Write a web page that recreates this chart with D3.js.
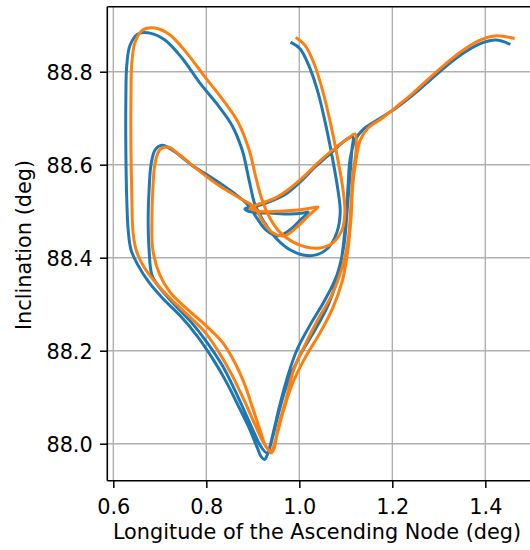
<!DOCTYPE html>
<html><head><meta charset="utf-8">
<script src="https://cdn.jsdelivr.net/npm/d3@7"></script>
<style>body{margin:0;background:#fff}svg{display:block}text{font-family:"DejaVu Sans",sans-serif}</style>
</head><body>
<svg id="c" width="530" height="550"></svg>
<script>
const xTicks = [0.6, 0.8, 1.0, 1.2, 1.4];
const yTicks = [88.0, 88.2, 88.4, 88.6, 88.8];
const xLabel = "Longitude of the Ascending Node (deg)";
const yLabel = "Inclination (deg)";
const seriesColors = ["#1f77b4", "#ff7f0e"];

// [RAAN (deg), inclination (deg)]
const blueTrack = [
[0.984,88.862],[1.002,88.849],[1.021,88.812],[1.040,88.756],[1.057,88.685],[1.072,88.610],[1.083,88.546],[1.088,88.498],[1.081,88.455],[1.062,88.421],[1.036,88.406],[1.008,88.406],[0.980,88.417],[0.950,88.442],[0.924,88.477],[0.905,88.513],[0.892,88.567],[0.877,88.632],[0.855,88.685],[0.825,88.728],[0.786,88.776],[0.748,88.829],[0.711,88.868],[0.679,88.883],[0.653,88.881],[0.636,88.857],[0.629,88.814],[0.627,88.739],[0.627,88.632],[0.629,88.524],
[0.632,88.460],[0.638,88.417],[0.653,88.384],[0.676,88.348],[0.706,88.313],[0.744,88.275],[0.780,88.232],[0.813,88.184],[0.843,88.133],[0.868,88.083],[0.892,88.034],[0.909,87.993],[0.918,87.972],[0.925,87.966],[0.932,87.978],
[0.943,88.019],[0.958,88.083],[0.976,88.148],[0.995,88.202],[1.023,88.255],[1.055,88.309],[1.081,88.363],[1.096,88.427],[1.103,88.503],[1.109,88.578],[1.113,88.632],[1.115,88.660],
[1.100,88.653],[1.070,88.627],[1.034,88.595],[1.002,88.563],[0.974,88.539],[0.941,88.522],[0.909,88.511],[0.883,88.505],[0.898,88.498],[0.937,88.496],[0.980,88.494],[1.008,88.496],[1.019,88.498],[1.002,88.481],[0.980,88.460],[0.954,88.447],[0.928,88.460],[0.907,88.488],[0.890,88.513],[0.862,88.537],[0.819,88.567],[0.769,88.599],[0.726,88.632],[0.705,88.642],[0.690,88.632],[0.681,88.599],[0.677,88.546],[0.675,88.481],[0.677,88.417],[0.683,88.363],
[0.700,88.335],[0.729,88.302],[0.767,88.262],[0.803,88.216],[0.834,88.169],[0.860,88.118],[0.883,88.068],[0.903,88.023],[0.918,87.993],[0.931,87.980],
[0.941,88.008],[0.956,88.068],[0.973,88.126],[1.002,88.191],[1.034,88.245],[1.062,88.298],[1.081,88.352],[1.092,88.406],[1.100,88.481],[1.105,88.556],[1.109,88.610],[1.120,88.653],[1.141,88.679],[1.174,88.700],[1.208,88.722],[1.242,88.748],[1.277,88.778],[1.311,88.808],[1.350,88.838],[1.388,88.860],[1.423,88.868],[1.451,88.860]
];

const orangeTrack = [
[0.995,88.872],[1.012,88.857],[1.032,88.817],[1.051,88.756],[1.068,88.685],[1.083,88.610],[1.094,88.546],[1.098,88.498],[1.092,88.460],[1.072,88.432],[1.045,88.421],[1.014,88.423],[0.986,88.434],[0.958,88.455],[0.937,88.485],[0.920,88.524],[0.907,88.571],[0.892,88.632],[0.868,88.692],[0.836,88.739],[0.797,88.789],[0.758,88.840],[0.722,88.879],[0.690,88.894],[0.664,88.890],[0.647,88.864],[0.640,88.821],[0.638,88.739],[0.638,88.632],[0.640,88.524],
[0.642,88.460],[0.649,88.417],[0.666,88.380],[0.694,88.343],[0.726,88.309],[0.762,88.275],[0.797,88.240],[0.827,88.197],[0.855,88.148],[0.881,88.094],[0.902,88.047],[0.920,88.008],[0.933,87.987],[0.939,87.980],[0.946,87.990],
[0.954,88.034],[0.971,88.094],[0.988,88.159],[1.012,88.212],[1.040,88.267],[1.070,88.320],[1.092,88.378],[1.105,88.438],[1.111,88.513],[1.115,88.578],[1.122,88.632],[1.120,88.666],
[1.105,88.657],[1.072,88.632],[1.040,88.604],[1.006,88.571],[0.976,88.546],[0.948,88.528],[0.915,88.516],[0.894,88.507],[0.911,88.500],[0.954,88.500],[1.002,88.503],[1.027,88.507],[1.040,88.509],[1.019,88.490],[0.993,88.464],[0.967,88.447],[0.941,88.455],[0.920,88.481],[0.903,88.509],[0.872,88.528],[0.829,88.554],[0.782,88.589],[0.743,88.621],[0.718,88.638],[0.700,88.632],[0.690,88.604],[0.685,88.546],[0.683,88.481],[0.685,88.417],
[0.700,88.363],[0.722,88.326],[0.756,88.292],[0.798,88.255],[0.834,88.219],[0.861,88.175],[0.883,88.126],[0.901,88.073],[0.917,88.025],[0.928,87.995],[0.939,87.984],
[0.950,88.012],[0.965,88.068],[0.984,88.126],[1.012,88.184],[1.045,88.239],[1.072,88.292],[1.092,88.348],[1.103,88.406],[1.111,88.481],[1.115,88.556],[1.122,88.610],[1.131,88.653],[1.148,88.679],[1.178,88.700],[1.208,88.724],[1.242,88.752],[1.275,88.782],[1.309,88.812],[1.346,88.842],[1.384,88.866],[1.421,88.877],[1.460,88.872]
];

const svg = d3.select("#c");
const L = 107.3, T = 6.7, R = 532.7, B = 480.7;
const x = d3.scaleLinear().domain([0.5871, 1.5019]).range([L, R]);
const y = d3.scaleLinear().domain([87.9204, 88.9398]).range([B, T]);

svg.append("defs").append("clipPath").attr("id", "clip")
  .append("rect").attr("x", L).attr("y", T).attr("width", R - L).attr("height", B - T);

// grid
const g = svg.append("g");
g.selectAll(".gx").data(xTicks).join("line")
  .attr("x1", d => x(d)).attr("x2", d => x(d)).attr("y1", T).attr("y2", B)
  .attr("stroke", "#b0b0b0").attr("stroke-width", 1.4);
g.selectAll(".gy").data(yTicks).join("line")
  .attr("y1", d => y(d)).attr("y2", d => y(d)).attr("x1", L).attr("x2", R)
  .attr("stroke", "#b0b0b0").attr("stroke-width", 1.4);

// series
const series = [blueTrack, orangeTrack];
const line = d3.line().x(d => x(d[0])).y(d => y(d[1])).curve(d3.curveCatmullRom.alpha(0.5));
svg.append("g").attr("clip-path", "url(#clip)").selectAll("path").data(series).join("path")
  .attr("d", line).attr("fill", "none")
  .attr("stroke", (d, i) => seriesColors[i]).attr("stroke-width", 3)
  .attr("stroke-linejoin", "round").attr("stroke-linecap", "square");

// axes
const fs = 20.8;
const xAxis = d3.axisBottom(x).tickValues(xTicks).tickSize(7.3).tickPadding(7.3).tickFormat(d3.format(".1f"));
const yAxis = d3.axisLeft(y).tickValues(yTicks).tickSize(7.3).tickPadding(7.3).tickFormat(d3.format(".1f"));
const ax = svg.append("g").attr("transform", `translate(0,${B})`).call(xAxis);
const ay = svg.append("g").attr("transform", `translate(${L},0)`).call(yAxis);
[ax, ay].forEach(a => {
  a.select(".domain").remove();
  a.selectAll(".tick line").attr("stroke", "#000").attr("stroke-width", 1.5);
  a.selectAll(".tick text").attr("font-size", fs).attr("fill", "#000").attr("font-family", "DejaVu Sans");
});
ax.selectAll(".tick text").attr("dy", null).attr("y", 33.3);
ay.selectAll(".tick text").attr("dy", "0.37em");

// spines
[[L, T, L, B], [L, B, R, B], [L, T, R, T], [R, T, R, B]].forEach(s =>
  svg.append("line").attr("x1", s[0]).attr("y1", s[1]).attr("x2", s[2]).attr("y2", s[3])
    .attr("stroke", "#000").attr("stroke-width", 1.6));

// labels
svg.append("text").attr("x", 317).attr("y", 539).attr("text-anchor", "middle")
  .attr("font-size", fs).attr("fill", "#000").text(xLabel);
svg.append("text").attr("transform", "translate(31,245) rotate(-90)").attr("text-anchor", "middle")
  .attr("font-size", fs).attr("fill", "#000").text(yLabel);
</script>
</body></html>
